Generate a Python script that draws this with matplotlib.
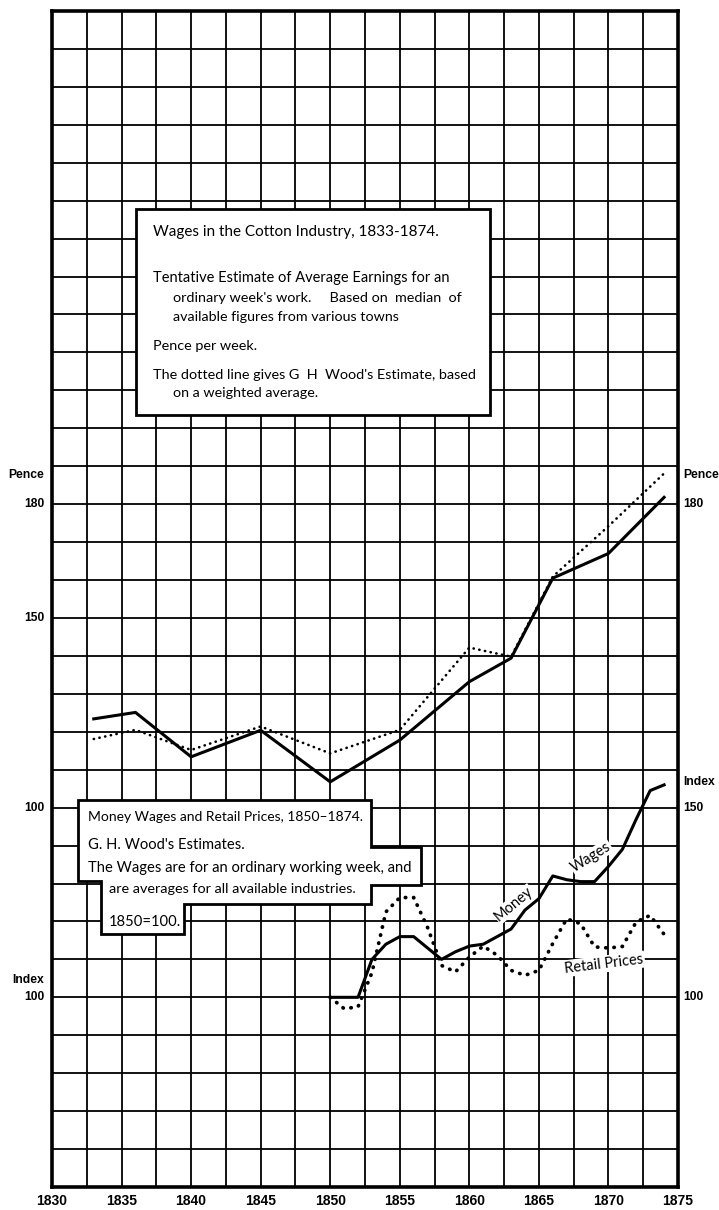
import numpy as np
import matplotlib
matplotlib.use("Agg")
import matplotlib.pyplot as plt
import matplotlib.transforms as mtransforms
from matplotlib.patches import Polygon

# ---------------- data ----------------
cotton_years = [1833, 1836, 1840, 1845, 1850, 1855, 1860, 1863, 1866, 1870, 1874]
median_pence = [123.4, 125.1, 113.4, 120.4, 106.8, 117.8, 133.2, 139.4, 160.5, 167.0, 181.8]
wood_pence = [118.1, 120.5, 115.2, 121.4, 114.3, 120.5, 142.2, 139.8, 160.9, 174.2, 188.1]

index_years = list(range(1850, 1875))
money_wages = [100, 100, 100, 110, 114, 116, 116, 113, 110, 112, 113.5, 114, 116,
               118, 123, 126, 132, 131, 130.5, 130.5, 134.5, 139, 147, 154.5, 156]
retail_prices = [100, 97, 97.5, 106.5, 122.5, 126.3, 126.3, 118.4, 108.4, 106.7, 110.6,
                 113.5, 111.1, 107.1, 105.8, 107.1, 114.2, 120.7, 119.4, 113.3, 113.0,
                 113.4, 119.9, 121.6, 116.6]

x_ticks = [1830, 1835, 1840, 1845, 1850, 1855, 1860, 1865, 1870, 1875]
x_tick_labels = [str(v) for v in x_ticks]
pence_ticks = [180, 150, 100]
index_ticks_left = [100]
index_ticks_right = [150, 100]

box1_lines = [
    "Wages in the Cotton Industry, 1833-1874.",
    "Tentative Estimate of Average Earnings for an",
    "ordinary week's work.     Based on  median  of",
    "available figures from various towns",
    "Pence per week.",
    "The dotted line gives G  H  Wood's Estimate, based",
    "on a weighted average.",
]
box1_sizes = [11.0, 10.5, 10.4, 10.3, 10.4, 10.4, 10.3]
box2_lines = [
    "Money Wages and Retail Prices, 1850\u20131874.",
    "G. H. Wood's Estimates.",
    "The Wages are for an ordinary working week, and",
    "are averages for all available industries.",
    "1850=100.",
]
box2_sizes = [10.0, 10.6, 10.6, 10.4, 10.6]

# ---------------- figure ----------------
W, H = 719, 1210
fig = plt.figure(figsize=(W / 100, H / 100), dpi=100)
fig.patch.set_facecolor("white")
L, R, TOP, BOT = 52, 678, 11, 1187
ax = fig.add_axes([L / W, 1 - BOT / H, (R - L) / W, (BOT - TOP) / H])

FONT = ["Lato", "DejaVu Sans"]
NUMFONT = ["Liberation Sans Narrow", "Liberation Sans", "DejaVu Sans"]

ax.set_xlim(1830, 1875)
ax.set_ylim(0, 310)
grid_x = np.arange(1830, 1875.01, 2.5)
ax.set_xticks(grid_x)
ax.set_xticklabels([str(int(v)) if v in x_ticks else "" for v in grid_x],
                   fontfamily=NUMFONT, fontweight="bold", fontsize=10)
ax.set_yticks(np.arange(0, 311, 10))
ax.set_yticklabels([])
ax.tick_params(length=0, pad=5)
ax.grid(True, color="black", lw=1.3)
ax.set_axisbelow(True)
for s in ax.spines.values():
    s.set_linewidth(2.6)
    s.set_color("black")

# pence series
ax.plot(cotton_years, median_pence, color="black", lw=2.2, solid_joinstyle="miter", zorder=3)
ax.plot(cotton_years, wood_pence, color="black", lw=1.9, linestyle=(0, (0.1, 2.1)),
        dash_capstyle="round", zorder=3)

# index axis (index 100 aligned with 50 pence, same unit spacing)
ax2 = ax.twinx()
ax2.set_ylim(50, 360)
ax2.axis("off")
ax2.plot(index_years, money_wages, color="black", lw=2.2, zorder=3)
ax2.plot(index_years, retail_prices, color="black", lw=2.7, linestyle=(0, (0.1, 2.1)),
         dash_capstyle="round", zorder=3)

# side labels
left_tr = mtransforms.blended_transform_factory(ax.transAxes, ax.transData)
left_tr2 = mtransforms.blended_transform_factory(ax2.transAxes, ax2.transData)
lx, rx = -0.012, 1.0080
lab_kw = dict(fontfamily=NUMFONT, fontweight="bold", fontsize=8.7, va="center")
ax.text(lx, 187.7, "Pence", transform=left_tr, ha="right", **lab_kw)
ax.text(rx, 187.7, "Pence", transform=left_tr, ha="left", **lab_kw)
for v in pence_ticks:
    ax.text(lx, v, str(v), transform=left_tr, ha="right", **lab_kw)
ax.text(rx, 180, "180", transform=left_tr, ha="left", **lab_kw)
ax.text(lx, 104.5, "Index", transform=left_tr2, ha="right", **lab_kw)
for v in index_ticks_left:
    ax.text(lx, v, str(v), transform=left_tr2, ha="right", **lab_kw)
ax.text(rx, 156.7, "Index", transform=left_tr2, ha="left", **lab_kw)
for v in index_ticks_right:
    ax.text(rx, v, str(v), transform=left_tr2, ha="left", **lab_kw)

# pixel transform for annotation boxes
T = mtransforms.Affine2D().scale(1 / W, -1 / H).translate(0, 1) + fig.transFigure

box1 = Polygon([(136, 209), (490, 209), (490, 415), (136, 415)], closed=True,
               facecolor="white", edgecolor="black", lw=2.0, transform=T, zorder=10,
               clip_on=False)
ax2.add_patch(box1)
b1_pos = [(153, 232), (153, 278), (173, 298), (173, 317), (153, 346), (153, 375), (173, 393)]
for (x, y), t, fs in zip(b1_pos, box1_lines, box1_sizes):
    ax2.text(x, y, t, transform=T, ha="left", va="center", fontsize=fs,
             fontfamily=FONT, zorder=11)

box2 = Polygon([(78, 800), (371, 800), (371, 847), (421, 847), (421, 885), (371, 885),
                (371, 904), (184, 904), (184, 934), (101, 934), (101, 881), (78, 881)],
               closed=True, facecolor="white", edgecolor="black", lw=2.0, transform=T,
               zorder=10, clip_on=False)
ax2.add_patch(box2)
b2_pos = [(88, 817), (88, 845), (88, 868), (109, 889), (109, 922)]
for (x, y), t, fs in zip(b2_pos, box2_lines, box2_sizes):
    ax2.text(x, y, t, transform=T, ha="left", va="center", fontsize=fs,
             fontfamily=FONT, zorder=11)

# series labels
ax2.text(514, 904, "Money", transform=T, rotation=40, ha="center", va="center",
         fontsize=10.5, fontfamily=FONT, zorder=6,
         bbox=dict(facecolor="white", edgecolor="none", pad=0.5))
ax2.text(591, 857, "Wages", transform=T, rotation=32, ha="center", va="center",
         fontsize=10.5, fontfamily=FONT, zorder=6,
         bbox=dict(facecolor="white", edgecolor="none", pad=0.5))
ax2.text(604, 964, "Retail Prices", transform=T, rotation=7, ha="center", va="center",
         fontsize=10.5, fontfamily=FONT, zorder=6,
         bbox=dict(facecolor="white", edgecolor="none", pad=1))

fig.savefig("out.png", dpi=100, facecolor="white")
